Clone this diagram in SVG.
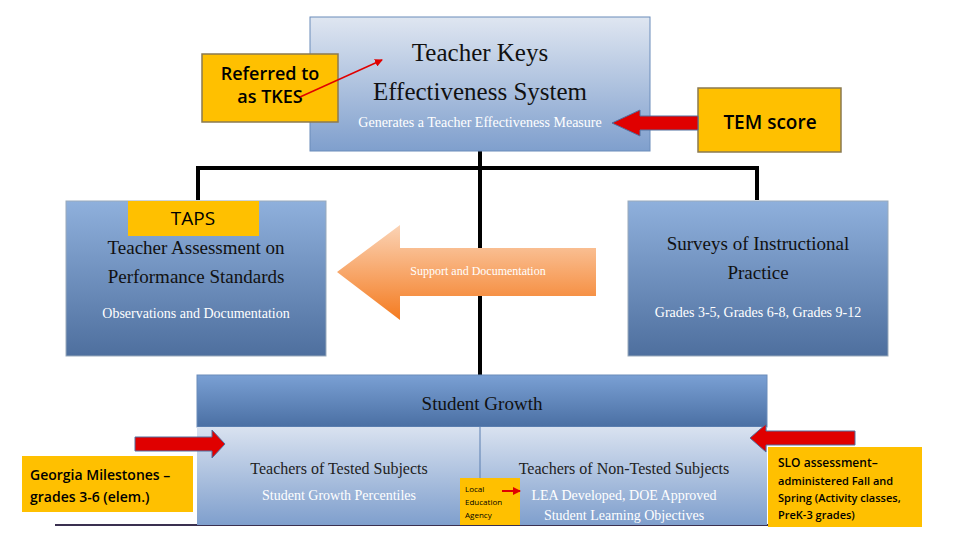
<svg xmlns="http://www.w3.org/2000/svg" width="960" height="540" viewBox="0 0 960 540">
<defs>
<linearGradient id="g1" x1="0" y1="0" x2="0" y2="1"><stop offset="0" stop-color="#dfe6f1"/><stop offset="1" stop-color="#7f9fcd"/></linearGradient>
<linearGradient id="g2" x1="0" y1="0" x2="0" y2="1"><stop offset="0" stop-color="#8fb0dc"/><stop offset="1" stop-color="#4e6f9e"/></linearGradient>
<linearGradient id="g3" x1="0" y1="0" x2="0" y2="1"><stop offset="0" stop-color="#7aa0d4"/><stop offset="1" stop-color="#4a6fa3"/></linearGradient>
<linearGradient id="g4" x1="0" y1="0" x2="0" y2="1"><stop offset="0" stop-color="#d9e2f0"/><stop offset="1" stop-color="#7f9fcd"/></linearGradient>
<linearGradient id="go" x1="0" y1="0" x2="0" y2="1"><stop offset="0" stop-color="#fbd3b5"/><stop offset="1" stop-color="#f47b20"/></linearGradient>
<marker id="ah" markerWidth="8" markerHeight="8" refX="7" refY="4" orient="auto" markerUnits="userSpaceOnUse"><path d="M0,0 L8,4 L0,8 Z" fill="#e00000"/></marker>
</defs>
<style>
.y{fill:#ffc000;stroke:#8a7a50;stroke-width:1.5}
.lb{font-family:"Open Sans","DejaVu Sans",sans-serif;font-weight:600;fill:#000}
.sf{font-family:"Liberation Serif",serif;text-anchor:middle}
.ra{fill:#e00000;stroke:#5070a0;stroke-width:1}
</style>
<rect width="960" height="540" fill="#fff"/>
<g id="connectors" stroke="#000" stroke-width="4" fill="none">
<path d="M480,151 V375"/>
<path d="M198,200 V168 H757 V200"/>
<line x1="55" y1="525" x2="770" y2="525" stroke="#3a3050" stroke-width="2"/>
</g>
<g id="tkes">
<rect x="310" y="17" width="340" height="134" fill="url(#g1)" stroke="#6b8cba"/>
<text class="sf" x="480" y="61" font-size="25" fill="#111">Teacher Keys</text>
<text class="sf" x="480" y="100" font-size="25" fill="#111">Effectiveness System</text>
<text class="sf" x="480" y="127" font-size="14" fill="#fff">Generates a Teacher Effectiveness Measure</text>
</g>
<g id="referred">
<rect class="y" x="202" y="54" width="136" height="68"/>
<text class="lb" x="270" y="80" font-size="18" text-anchor="middle">Referred to</text>
<text class="lb" x="270" y="103" font-size="18" text-anchor="middle">as TKES</text>
<line x1="300" y1="97" x2="382" y2="60" stroke="#e00000" stroke-width="1.5" marker-end="url(#ah)"/>
</g>
<g id="tem">
<rect class="y" x="698" y="88" width="143" height="64"/>
<text class="lb" x="770" y="129" font-size="19" text-anchor="middle">TEM score</text>
<path class="ra" d="M698,116 H640 V110 L612,123 L640,136 V130 H698 Z"/>
</g>
<g id="taps">
<rect x="66" y="201" width="260" height="155" fill="url(#g2)" stroke="#9ab"/>
<text class="sf" x="196" y="254" font-size="19" fill="#111">Teacher Assessment on</text>
<text class="sf" x="196" y="283" font-size="19" fill="#111">Performance Standards</text>
<text class="sf" x="196" y="318" font-size="14" fill="#fff">Observations and Documentation</text>
<rect x="128" y="201" width="131" height="35" fill="#ffc000"/>
<text x="193" y="225" font-size="19" text-anchor="middle" font-family="Open Sans,sans-serif">TAPS</text>
</g>
<g id="support">
<path d="M596,248 H400 V225 L337,272 L400,320 V296 H596 Z" fill="url(#go)"/>
<text class="sf" x="478" y="275" font-size="12" fill="#fff">Support and Documentation</text>
</g>
<g id="surveys">
<rect x="628" y="201" width="260" height="155" fill="url(#g2)" stroke="#9ab"/>
<text class="sf" x="758" y="250" font-size="19" fill="#111">Surveys of Instructional</text>
<text class="sf" x="758" y="279" font-size="19" fill="#111">Practice</text>
<text class="sf" x="758" y="317" font-size="14" fill="#fff">Grades 3-5, Grades 6-8, Grades 9-12</text>
</g>
<g id="growth">
<rect x="197" y="375" width="570" height="52" fill="url(#g3)" stroke="#6b8cba"/>
<rect x="197" y="427" width="570" height="98" fill="url(#g4)"/>
<line x1="480" y1="427" x2="480" y2="525" stroke="#5b7fb0"/>
<text class="sf" x="482" y="410" font-size="19" fill="#111">Student Growth</text>
<text class="sf" x="339" y="474" font-size="16" fill="#222">Teachers of Tested Subjects</text>
<text class="sf" x="339" y="500" font-size="14" fill="#fff">Student Growth Percentiles</text>
<text class="sf" x="624" y="474" font-size="16" fill="#222">Teachers of Non-Tested Subjects</text>
<text class="sf" x="624" y="500" font-size="14" fill="#fff">LEA Developed, DOE Approved</text>
<text class="sf" x="624" y="520" font-size="14" fill="#fff">Student Learning Objectives</text>
</g>
<g id="georgia">
<rect x="22" y="456" width="171" height="56" fill="#ffc000"/>
<text class="lb" x="30" y="480" font-size="14">Georgia Milestones –</text>
<text class="lb" x="30" y="502" font-size="14">grades 3-6 (elem.)</text>
<path class="ra" d="M135,437 H212 V430 L225,444 L212,458 V451 H135 Z"/>
</g>
<g id="slo">
<rect x="768" y="447" width="154" height="80" fill="#ffc000"/>
<text class="lb" x="778" y="467" font-size="12">SLO assessment–</text>
<text class="lb" x="778" y="485" font-size="11">administered Fall and</text>
<text class="lb" x="778" y="502" font-size="11">Spring (Activity classes,</text>
<text class="lb" x="778" y="519" font-size="11">PreK-3 grades)</text>
<path class="ra" d="M855,431 H766 V424 L750,438 L766,452 V445 H855 Z"/>
</g>
<g id="lea">
<rect x="460" y="478" width="60" height="47" fill="#ffc000"/>
<text x="465" y="492" font-size="8" font-family="Open Sans,sans-serif">Local</text>
<text x="465" y="505" font-size="8" font-family="Open Sans,sans-serif">Education</text>
<text x="465" y="518" font-size="8" font-family="Open Sans,sans-serif">Agency</text>
<line x1="502" y1="491" x2="520" y2="491" stroke="#e00000" stroke-width="2" marker-end="url(#ah)"/>
</g>
</svg>
